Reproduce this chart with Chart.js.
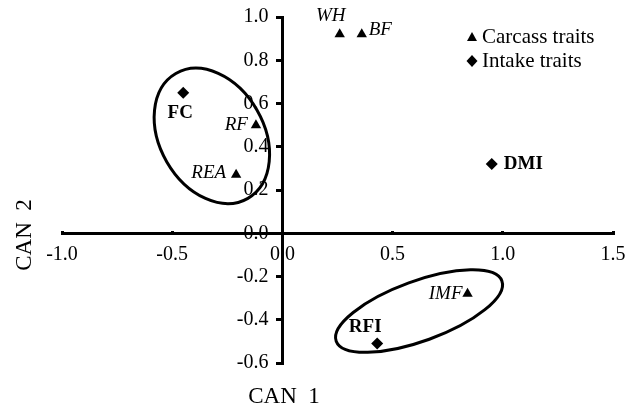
<!DOCTYPE html>
<html>
<head>
<meta charset="utf-8">
<script src="https://cdn.jsdelivr.net/npm/chart.js@4.4.1/dist/chart.umd.min.js"></script>
<style>
  html, body { margin: 0; padding: 0; background: #fff; }
  #wrap { width: 640px; height: 410px; }
</style>
</head>
<body>
<div id="wrap"><canvas id="can"></canvas></div>
<script>
// canonical scores
const carcassNames = ['WH', 'BF', 'RF', 'REA', 'IMF'];
const carcassX = [0.26, 0.36, -0.12, -0.21, 0.84];
const carcassY = [0.92, 0.92, 0.50, 0.27, -0.28];

const intakeNames = ['FC', 'DMI', 'RFI'];
const intakeX = [-0.45, 0.95, 0.43];
const intakeY = [0.65, 0.32, -0.51];

const xTicks = [-1.0, -0.5, 0.0, 0.5, 1.0, 1.5];
const yTicks = [-0.6, -0.4, -0.2, 0.0, 0.2, 0.4, 0.6, 0.8, 1.0];

const SERIF = "'Liberation Serif', 'Times New Roman', serif";

// where each trait name sits next to its marker (pixels)
const labelStyle = {
    WH:  { font: 'italic', dx: -9,  dy: -18, align: 'center' },
    BF:  { font: 'italic', dx: 7,   dy: -4,  align: 'left' },
    RF:  { font: 'italic', dx: -8,  dy: 0,   align: 'right' },
    REA: { font: 'italic', dx: -10, dy: -2,  align: 'right' },
    IMF: { font: 'italic', dx: -5,  dy: 0,   align: 'right' },
    FC:  { font: 'bold',   dx: -3,  dy: 20,  align: 'center' },
    DMI: { font: 'bold',   dx: 12,  dy: 0,   align: 'left' },
    RFI: { font: 'bold',   dx: -12, dy: -16, align: 'center' }
};

// grouping ellipses: centre in data units, radii in x units, rotation in degrees
const groups = [
    { cx: -0.32, cy: 0.45, rx: 0.327, ry: 0.236, rot: 60 },
    { cx: 0.62, cy: -0.36, rx: 0.40, ry: 0.136, rot: -20 }
];

function toPoints(xs, ys, names) {
    return xs.map((x, i) => ({ x: x, y: ys[i], name: names[i] }));
}

// a centred y axis puts its labels flush against the line, so push them left
const yLabelShift = {
    id: 'yLabelShift',
    beforeDraw(chart) {
        const sy = chart.scales.y;
        const items = sy.getLabelItems(chart.chartArea);
        items.forEach(it => {
            if (!it._shifted) {
                it.options.translation[0] -= 14;
                it._shifted = true;
            }
        });
    }
};

const decorPlugin = {
    id: 'decor',
    afterDatasetsDraw(chart) {
        const ctx = chart.ctx;
        const sx = chart.scales.x, sy = chart.scales.y;
        const pxPerUnit = sx.getPixelForValue(1) - sx.getPixelForValue(0);
        ctx.save();

        // ellipses
        ctx.strokeStyle = '#000';
        ctx.lineWidth = 3;
        groups.forEach(g => {
            ctx.beginPath();
            ctx.ellipse(sx.getPixelForValue(g.cx), sy.getPixelForValue(g.cy),
                g.rx * pxPerUnit, g.ry * pxPerUnit, g.rot * Math.PI / 180, 0, Math.PI * 2);
            ctx.stroke();
        });

        // point names
        ctx.fillStyle = '#000';
        ctx.textBaseline = 'middle';
        chart.data.datasets.forEach((ds, di) => {
            const meta = chart.getDatasetMeta(di);
            meta.data.forEach((el, i) => {
                const name = ds.data[i].name;
                const st = labelStyle[name];
                ctx.font = st.font + ' 19px ' + SERIF;
                ctx.textAlign = st.align;
                ctx.fillText(name, el.x + st.dx, el.y + st.dy);
            });
        });

        // legend
        const lx = chart.chartArea.right - 141, ly = chart.chartArea.top + 20;
        ctx.beginPath();
        ctx.moveTo(lx, ly - 5);
        ctx.lineTo(lx + 5, ly + 4);
        ctx.lineTo(lx - 5, ly + 4);
        ctx.closePath();
        ctx.fill();
        ctx.beginPath();
        ctx.moveTo(lx, ly + 18);
        ctx.lineTo(lx + 5.5, ly + 24);
        ctx.lineTo(lx, ly + 30);
        ctx.lineTo(lx - 5.5, ly + 24);
        ctx.closePath();
        ctx.fill();
        ctx.font = '21px ' + SERIF;
        ctx.textAlign = 'left';
        ctx.fillText('Carcass traits', lx + 10, ly);
        ctx.fillText('Intake traits', lx + 10, ly + 24);

        // axis titles
        ctx.font = '23px ' + SERIF;
        ctx.textAlign = 'center';
        ctx.fillText('CAN  1', 284, chart.height - 13);
        ctx.translate(25, 235);
        ctx.rotate(-Math.PI / 2);
        ctx.fillText('CAN  2', 0, 0);
        ctx.restore();
    }
};

function axisOpts(ticks, cross, isX) {
    return {
        type: 'linear',
        position: cross,
        min: ticks[0],
        max: ticks[ticks.length - 1],
        afterBuildTicks: (scale) => { scale.ticks = ticks.map(v => ({ value: v })); },
        afterFit: (scale) => { if (isX) scale.height = 0; else scale.width = 0; },
        border: { display: true, color: '#000', width: 3 },
        grid: {
            drawOnChartArea: false,
            color: '#000',
            lineWidth: 3,
            tickLength: isX ? -4 : 5
        },
        ticks: {
            color: '#000',
            padding: isX ? 13 : 3,
            maxRotation: 0,
            autoSkip: false,
            font: { family: SERIF, size: 20 },
            callback: (v) => Number(v).toFixed(1)
        }
    };
}

new Chart(document.getElementById('can'), {
    type: 'scatter',
    data: {
        datasets: [
            {
                label: 'Carcass traits',
                data: toPoints(carcassX, carcassY, carcassNames),
                pointStyle: 'triangle',
                pointRadius: 6,
                backgroundColor: '#000',
                borderColor: '#000',
                borderWidth: 0
            },
            {
                label: 'Intake traits',
                data: toPoints(intakeX, intakeY, intakeNames),
                pointStyle: 'rectRot',
                pointRadius: 6,
                backgroundColor: '#000',
                borderColor: '#000',
                borderWidth: 0
            }
        ]
    },
    options: {
        responsive: true,
        maintainAspectRatio: false,
        animation: false,
        layout: { padding: { left: 62, right: 27, top: 17, bottom: 47 } },
        plugins: {
            legend: { display: false },
            tooltip: { enabled: false }
        },
        scales: {
            x: axisOpts(xTicks, { y: 0 }, true),
            y: axisOpts(yTicks, { x: 0 }, false)
        }
    },
    plugins: [yLabelShift, decorPlugin]
});
</script>
</body>
</html>
